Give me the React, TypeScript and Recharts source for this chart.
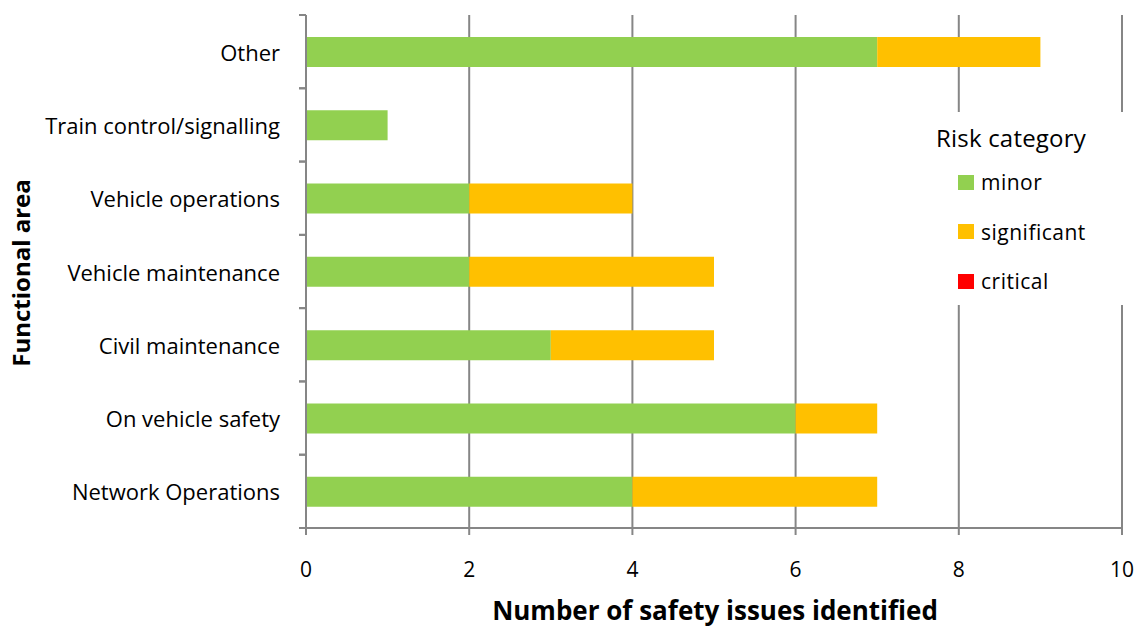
import React from 'react';
import { BarChart, Bar, XAxis, YAxis, CartesianGrid, Legend } from 'recharts';

const categories = ['Other', 'Train control/signalling', 'Vehicle operations', 'Vehicle maintenance', 'Civil maintenance', 'On vehicle safety', 'Network Operations'];
const minor = [7, 1, 2, 2, 3, 6, 4];
const significant = [2, 0, 2, 3, 2, 1, 3];
const critical = [0, 0, 0, 0, 0, 0, 0];
const xTicks = [0, 2, 4, 6, 8, 10];

const seriesNames = ['minor', 'significant', 'critical'];
const seriesColors = ['#92D050', '#FFC000', '#FF0000'];

const data = categories.map((c, i) => ({ name: c, minor: minor[i], significant: significant[i], critical: critical[i] }));

const FONT = '"Open Sans", sans-serif';
const GRAY = '#868686';

const YTick = (props: any) => {
  const { x, y, payload } = props;
  const half = payload && payload.offset ? payload.offset : 36.6;
  return (
    <g>
      <line x1={x + 1} x2={x + 8} y1={y - half} y2={y - half} stroke={GRAY} strokeWidth={2} />
      <line x1={x + 1} x2={x + 8} y1={y + half} y2={y + half} stroke={GRAY} strokeWidth={2} />
      <text x={x - 18} y={y} textAnchor="end" dominantBaseline="central" fontFamily={FONT} fontSize={22} fill="#000">
        {payload.value}
      </text>
    </g>
  );
};

const XTick = (props: any) => {
  const { x, payload } = props;
  return (
    <text x={x} y={569} textAnchor="middle" dominantBaseline="central" fontFamily={FONT} fontSize={21} fill="#000">
      {payload.value}
    </text>
  );
};

const LegendContent = () => (
  <div style={{ background: '#fff', width: 205, height: 193, fontFamily: FONT, position: 'relative' }}>
    <div style={{ position: 'absolute', left: 18, top: 9, fontSize: 24, color: '#000', whiteSpace: 'nowrap', letterSpacing: 0.2 }}>Risk category</div>
    {seriesNames.map((n, i) => (
      <div key={n} style={{ position: 'absolute', left: 40, top: 56 + i * 49.5, display: 'flex', alignItems: 'center', whiteSpace: 'nowrap' }}>
        <span style={{ display: 'inline-block', width: 16, height: 15, background: seriesColors[i], marginRight: 7 }} />
        <span style={{ fontSize: 21, color: '#000', letterSpacing: 0.5 }}>{n}</span>
      </div>
    ))}
  </div>
);

export default function App() {
  return (
    <div style={{ position: 'absolute', left: 0, top: 0, width: 1138, height: 630, background: '#fff' }}>
      <BarChart
        width={1138}
        height={630}
        data={data}
        layout="vertical"
        margin={{ top: 15, right: 16, bottom: 0, left: 16 }}
      >
        <CartesianGrid horizontal={false} vertical={true} stroke={GRAY} strokeWidth={2} />
        <XAxis
          type="number"
          domain={[0, 10]}
          ticks={xTicks}
          axisLine={{ stroke: GRAY, strokeWidth: 2 }}
          tickLine={{ stroke: GRAY, strokeWidth: 2 }}
          tickSize={7}
          tick={<XTick />}
          interval={0}
          height={102}
        />
        <YAxis
          type="category"
          dataKey="name"
          width={290}
          axisLine={{ stroke: GRAY, strokeWidth: 2 }}
          tickLine={false}
          tick={<YTick />}
          interval={0}
        />
        <Legend
          layout="horizontal"
          verticalAlign="middle"
          align="center"
          content={<LegendContent />}
          wrapperStyle={{ position: 'absolute', left: 918, top: 112, width: 205, height: 193 }}
        />
        {seriesNames.map((n, i) => (
          <Bar key={n} dataKey={n} stackId="a" fill={seriesColors[i]} barSize={30} isAnimationActive={false} />
        ))}
        <text x={715} y={620} textAnchor="middle" fontFamily={FONT} fontSize={26} fontWeight="bold" fill="#000">
          Number of safety issues identified
        </text>
        <text x={30} y={273} transform="rotate(-90 30 273)" textAnchor="middle" fontFamily={FONT} fontSize={24} fontWeight="bold" fill="#000">
          Functional area
        </text>
      </BarChart>
    </div>
  );
}
